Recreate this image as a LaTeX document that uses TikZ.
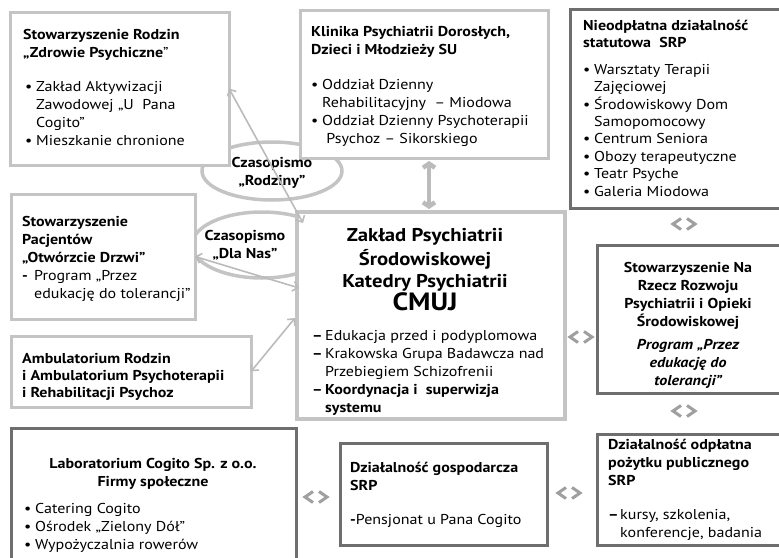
\documentclass[tikz,border=0pt]{standalone}
\usepackage{fontspec}
\setmainfont{PT Sans}[FakeStretch=1.12]
\usetikzlibrary{arrows.meta,shapes.geometric,calc}
\definecolor{lightb}{HTML}{C4C4C4}
\definecolor{darkb}{HTML}{6E6E6E}
\definecolor{arr}{HTML}{BBBBBB}
\newcommand\bul{\makebox[11pt][l]{•}}
\newcommand\ind{\hspace*{11pt}}
\newcommand\dsh{\makebox[13pt][l]{\textbf{–}}}
\newcommand\nrm{\fontsize{14.3}{18}\selectfont}
\begin{document}
\begin{tikzpicture}[x=1pt,y=-1pt,
  lbox/.style={draw=lightb, line width=3pt, fill=white, anchor=north west, inner sep=0pt, outer sep=0pt},
  dbox/.style={draw=darkb, line width=3pt, fill=white, anchor=north west, inner sep=0pt, outer sep=0pt},
  txt/.style={anchor=north west, inner sep=0pt, align=left, font=\nrm},
  ttl/.style={txt, font=\nrm\bfseries},
  ell/.style={ellipse, draw=lightb, line width=3.5pt, inner sep=0pt},
  conn/.style={draw=arr, line width=1.6pt, {Straight Barb[length=5pt,width=10pt]}-{Straight Barb[length=5pt,width=10pt]}},
  bigconn/.style={draw=arr, line width=4.5pt, {Straight Barb[length=4pt,width=12pt]}-{Straight Barb[length=4pt,width=12pt]}},
  chev/.style={draw=gray!75, line width=3pt, line join=miter},
  bichev/.pic={\draw[chev] (-3,-5.5) -- (-11,0) -- (-3,5.5); \draw[chev] (3,-5.5) -- (11,0) -- (3,5.5);}
]
\useasboundingbox (0,0) rectangle (779,557);

% ellipses (behind boxes)
\node[ell, minimum width=140pt, minimum height=58pt] (rodziny) at (272,171) {};
\node[ell, minimum width=140pt, minimum height=66pt] (dlanas) at (262,245) {};

% boxes
\node[lbox, minimum width=219pt, minimum height=153pt] (rodzin) at (10,12) {};
\node[lbox, minimum width=248pt, minimum height=148pt] (klin) at (300,10) {};
\node[dbox, minimum width=220pt, minimum height=199pt] (nieod) at (570,9) {};
\node[lbox, minimum width=184pt, minimum height=125pt] (pac) at (11,194) {};
\node[lbox, minimum width=240pt, minimum height=71pt] (amb) at (11,336) {};
\node[lbox, line width=3.5pt, minimum width=268pt, minimum height=207pt] (zak) at (297,212) {};
\node[dbox, minimum width=193pt, minimum height=148pt] (narz) at (597,245) {};
\node[dbox, minimum width=285pt, minimum height=140pt] (lab) at (11,428) {};
\node[dbox, minimum width=207pt, minimum height=102pt] (gosp) at (340,443) {};
\node[dbox, minimum width=193pt, minimum height=111pt] (odp) at (597,434) {};

% ellipse texts
\node[txt, anchor=center, align=center, font=\nrm\bfseries] (trodziny) at (272,172) {\strut Czasopismo\\„Rodziny”};
\node[txt, anchor=center, align=center, font=\nrm\bfseries] (tdlanas) at (245,244) {\strut Czasopismo\\„Dla Nas”};

% texts
\node[ttl] (t1) at (23,27) {\strut Stowarzyszenie Rodzin\\„Zdrowie Psychiczne\mdseries ”};
\node[txt] (b1) at (25,79) {\strut\bul Zakład Aktywizacji\\\ind Zawodowej „U\ \ Pana\\\ind Cogito”\\\bul Mieszkanie chronione};

\node[ttl] (t2) at (311,24) {\strut Klinika Psychiatrii Dorosłych,\\Dzieci i Młodzieży SU};
\node[txt] (b2) at (311,77) {\strut\bul Oddział Dzienny\\\ind Rehabilitacyjny \ –\ Miodowa\\\bul Oddział Dzienny Psychoterapii\\\ind\ Psychoz – Sikorskiego};

\node[ttl, font=\fontsize{14.3}{17.4}\selectfont\bfseries] (t3) at (583,18) {\strut Nieodpłatna działalność\\statutowa\ \ SRP};
\node[txt, font=\fontsize{14.3}{17.4}\selectfont] (b3) at (583,62) {\strut\bul Warsztaty Terapii\\\ind Zajęciowej\\\bul Środowiskowy Dom\\\ind Samopomocowy\\\bul Centrum Seniora\\\bul Obozy terapeutyczne\\\bul Teatr Psyche\\\bul Galeria Miodowa};

\node[ttl] (t4) at (22,214) {\strut Stowarzyszenie\\Pacjentów\\„Otwórzcie Drzwi”};
\node[txt] (b4) at (22,268) {\strut\makebox[12pt][l]{\textbf{-}}Program „Przez\\\hspace*{12pt}edukację do tolerancji”};

\node[ttl, font=\fontsize{14.3}{17}\selectfont\bfseries] (t5) at (22,351) {\strut Ambulatorium Rodzin\\i Ambulatorium Psychoterapii\\i Rehabilitacji Psychoz};

\node[ttl, anchor=north, align=center, font=\fontsize{18.5}{22}\selectfont\bfseries] (t6) at (425,226) {\strut Zakład Psychiatrii\\Środowiskowej\\Katedry Psychiatrii\\[1pt]{\fontsize{25}{25}\selectfont CMUJ}};
\node[txt] (b6) at (312,328) {\strut\dsh Edukacja przed i podyplomowa\\\dsh Krakowska Grupa Badawcza nad\\\hspace*{13pt}Przebiegiem Schizofrenii\\\dsh\textbf{Koordynacja i\ \ superwizja}\\\hspace*{13pt}\textbf{systemu}};

\node[ttl, anchor=north, align=center] (t7) at (688,260) {\strut Stowarzyszenie Na\\Rzecz Rozwoju\\Psychiatrii i Opieki\\Środowiskowej};
\node[ttl, anchor=north, align=center, font=\nrm\bfseries\itshape] (b7) at (688,337) {\strut Program „Przez\\edukację do\\tolerancji”};

\node[ttl, anchor=north, align=center] (t8) at (153,456) {\strut Laboratorium Cogito Sp. z o.o.\\Firmy społeczne};
\node[txt] (b8) at (24,501) {\strut\bul Catering Cogito\\\bul Ośrodek „Zielony Dół”\\\bul Wypożyczalnia rowerów};

\node[ttl] (t9) at (350,460) {\strut Działalność gospodarcza\\SRP};
\node[txt] (b9) at (350,512) {\strut\textbf{-}Pensjonat u Pana Cogito};

\node[ttl] (t10) at (608,437) {\strut Działalność odpłatna\\pożytku publicznego\\SRP};
\node[txt] (b10) at (608,507) {\strut\makebox[12pt][l]{\textbf{–}}kursy, szkolenia,\\\hspace*{12pt}konferencje, badania};

% connectors
\draw[conn] (rodzin.east) -- ($(zak.north west)+(6,11)$);
\draw[conn] (pac.east) -- ($(zak.north west)+(2,76)$);
\draw[conn] (amb.east) -- ($(zak.north west)+(-2,106)$);
\draw[bigconn] ($(klin.south)+(5,3)$) -- ($(zak.north)+(-2,-3)$);

% bidirectional chevrons
\coordinate (c1) at (684,224);
\coordinate (c2) at (581,337);
\coordinate (c3) at (684,411);
\coordinate (c4) at (316,497);
\coordinate (c5) at (569,493);
\foreach \c in {c1,c2,c3,c4,c5} \path (\c) pic{bichev};
\end{tikzpicture}
\end{document}
